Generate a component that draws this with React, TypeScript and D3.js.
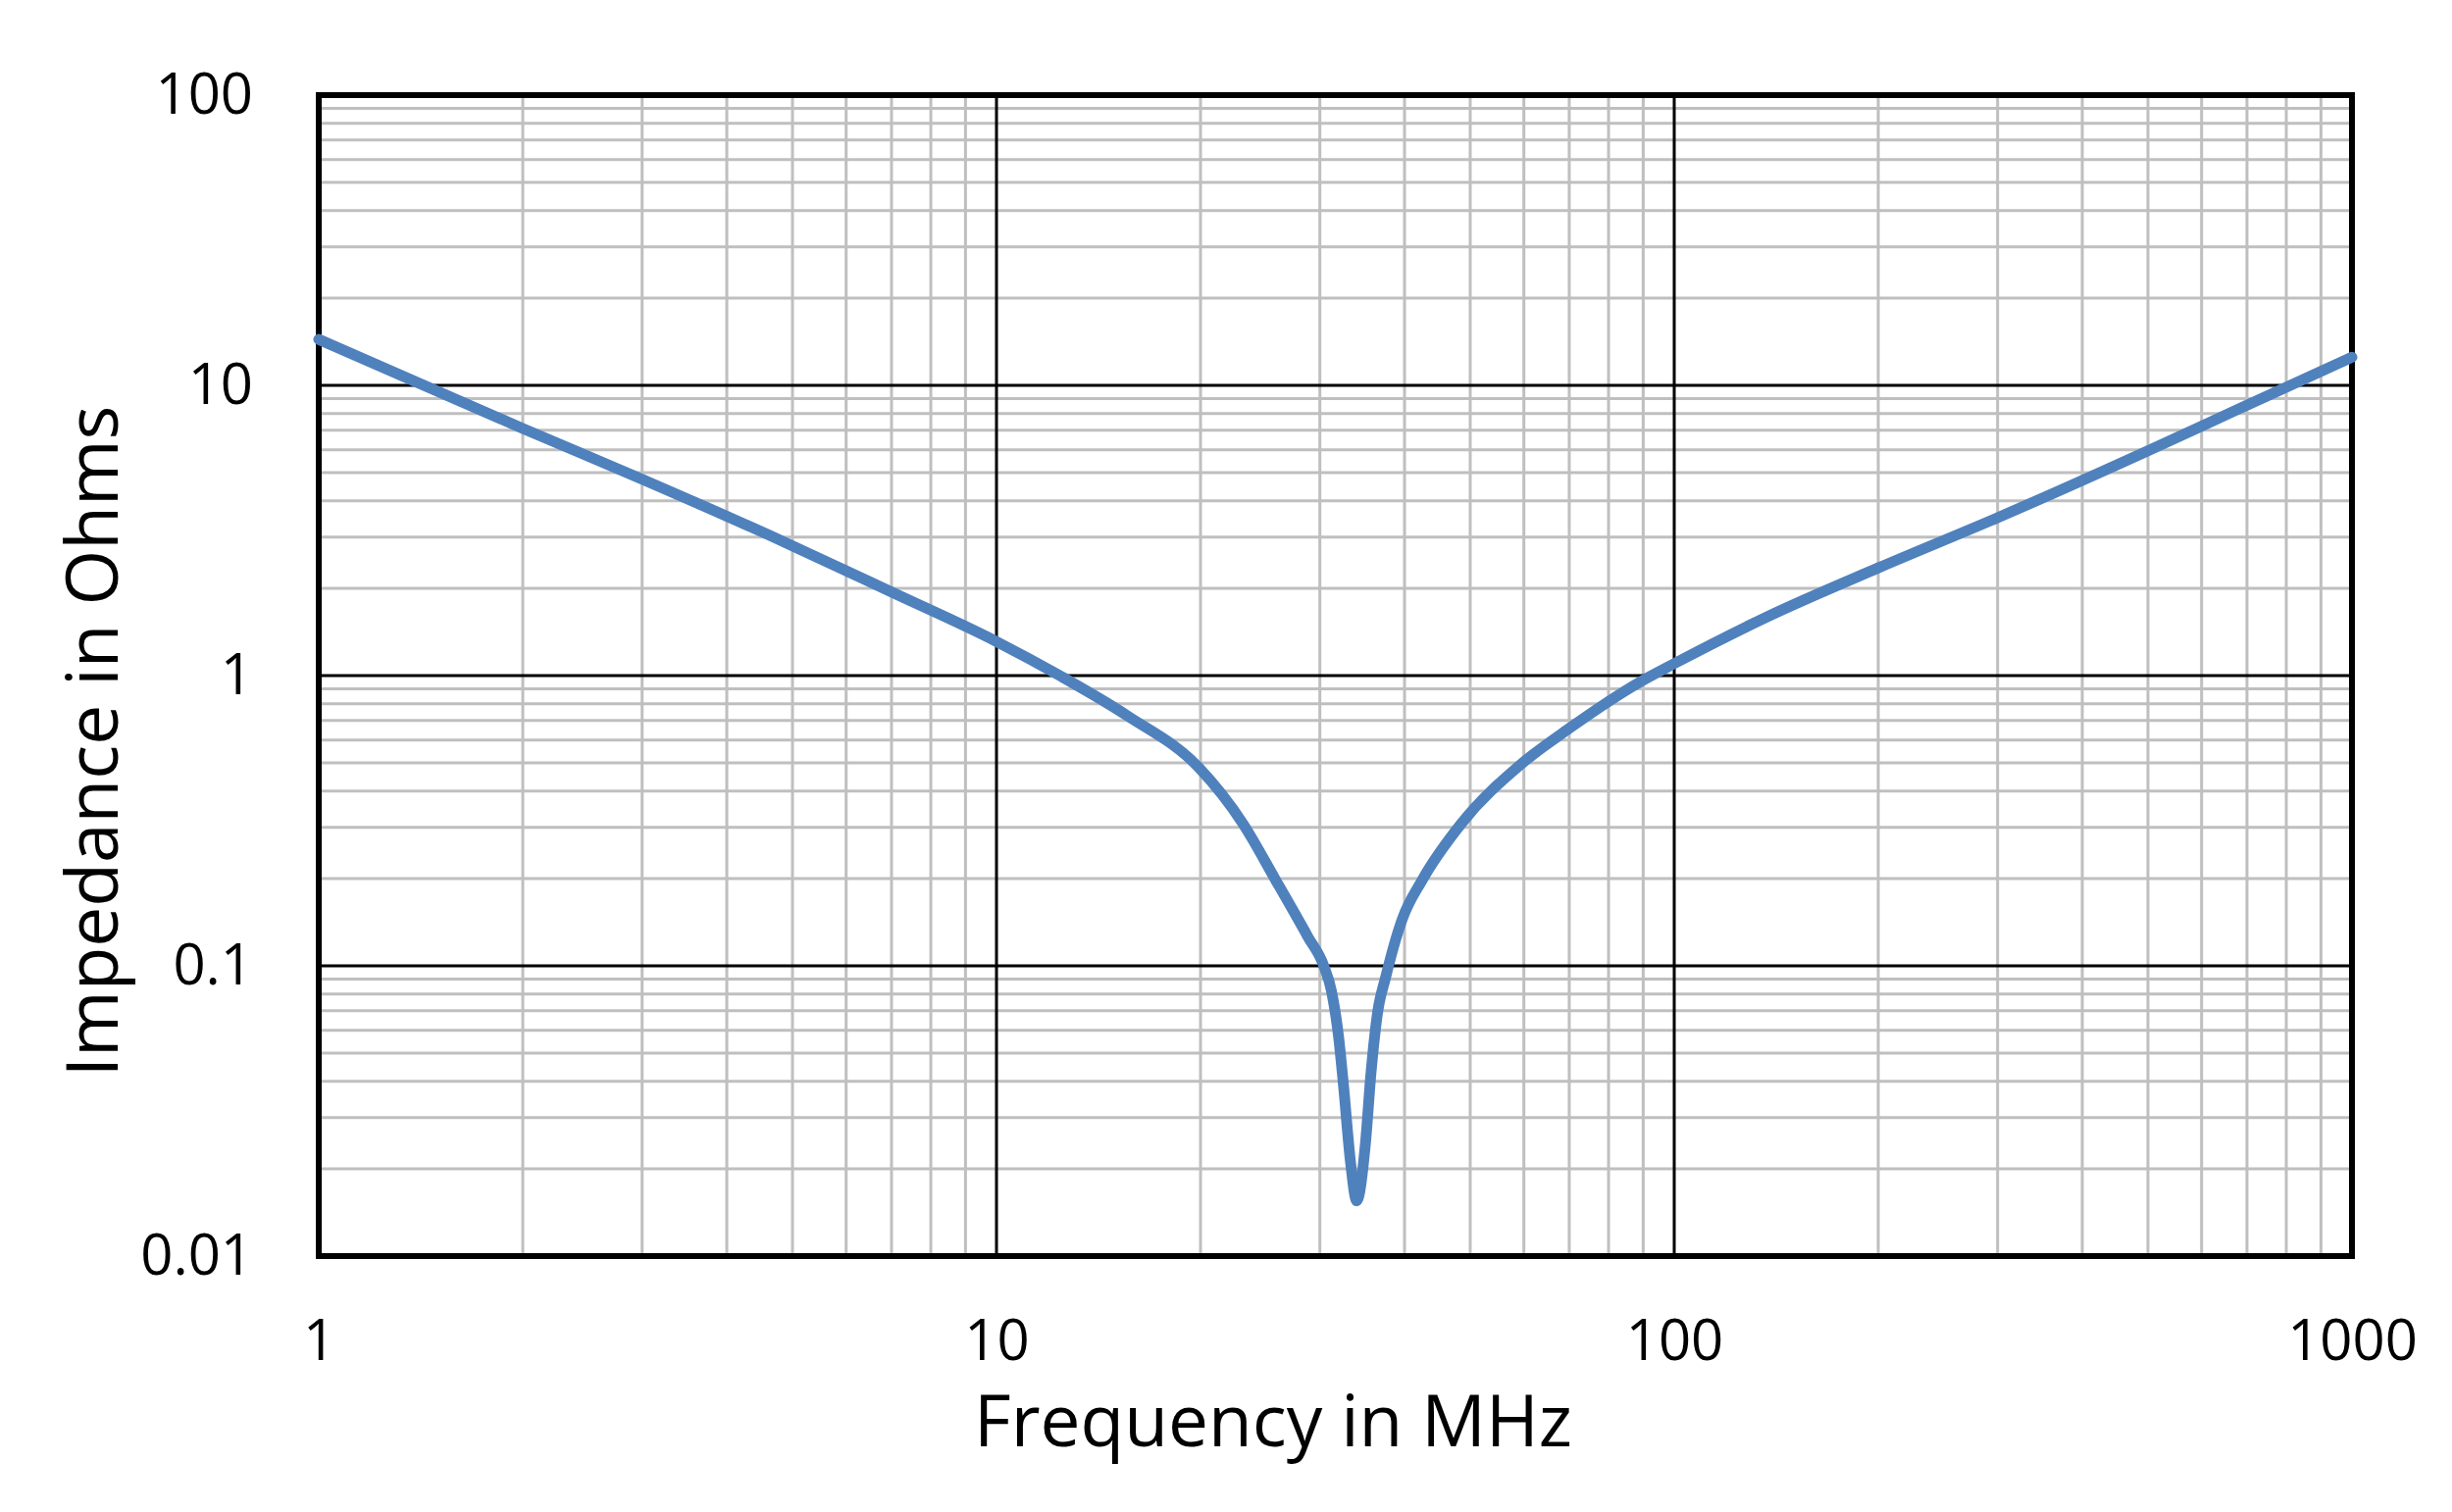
import React, { useEffect, useRef } from 'react';
import * as d3 from 'd3';

// frequency (MHz) and impedance (Ohm)
const freqMHz = [1, 2, 3, 5, 7, 10, 12.4, 15.6, 19.9, 23.1, 25.8, 28.8, 30.4, 31.2, 32, 32.5, 33.3, 34, 35, 35.7, 36.5, 37.5, 39.7, 42.5, 48.5, 59.3, 70, 89.3, 100, 136, 200, 300, 500, 700, 1000];
const impedance = [14.4, 7.1, 4.75, 2.8, 1.94, 1.31, 1.0, 0.727, 0.481, 0.309, 0.198, 0.126, 0.1, 0.082, 0.056, 0.039, 0.021, 0.0155, 0.024, 0.043, 0.069, 0.091, 0.145, 0.198, 0.309, 0.493, 0.658, 0.955, 1.1, 1.58, 2.35, 3.5, 5.95, 8.55, 12.5];

const xTicks = [1, 10, 100, 1000];
const xTickLabels = ['1', '10', '100', '1000'];
const yTicks = [0.01, 0.1, 1, 10, 100];
const yTickLabels = ['0.01', '0.1', '1', '10', '100'];
const minorSteps = [2, 3, 4, 5, 6, 7, 8, 9];

export default function App() {
  const ref = useRef<SVGSVGElement>(null);

  useEffect(() => {
    if (!ref.current) return;
    const svg = d3.select(ref.current);
    svg.selectAll('*').remove();

    const left = 325, right = 2398, top = 97, bottom = 1281;
    const font = '"Open Sans", "Noto Sans", sans-serif';

    const x = d3.scaleLog().domain([1, 1000]).range([left, right]);
    const y = d3.scaleLog().domain([0.01, 100]).range([bottom, top]);

    const xMinor: number[] = [];
    [1, 10, 100].forEach(d => minorSteps.forEach(k => xMinor.push(d * k)));
    const yMinor: number[] = [];
    [0.01, 0.1, 1, 10].forEach(d => minorSteps.forEach(k => yMinor.push(d * k)));

    const grid = svg.append('g');
    grid.selectAll('.vminor').data(xMinor).enter().append('line')
      .attr('x1', d => x(d)).attr('x2', d => x(d))
      .attr('y1', top).attr('y2', bottom)
      .attr('stroke', '#BFBFBF').attr('stroke-width', 3);
    grid.selectAll('.hminor').data(yMinor).enter().append('line')
      .attr('x1', left).attr('x2', right)
      .attr('y1', d => y(d)).attr('y2', d => y(d))
      .attr('stroke', '#BFBFBF').attr('stroke-width', 3);
    grid.selectAll('.vmajor').data(xTicks.slice(1, -1)).enter().append('line')
      .attr('x1', d => x(d)).attr('x2', d => x(d))
      .attr('y1', top).attr('y2', bottom)
      .attr('stroke', '#000').attr('stroke-width', 3);
    grid.selectAll('.hmajor').data(yTicks.slice(1, -1)).enter().append('line')
      .attr('x1', left).attr('x2', right)
      .attr('y1', d => y(d)).attr('y2', d => y(d))
      .attr('stroke', '#000').attr('stroke-width', 3);

    // plot frame
    svg.append('rect')
      .attr('x', left).attr('y', top)
      .attr('width', right - left).attr('height', bottom - top)
      .attr('fill', 'none').attr('stroke', '#000').attr('stroke-width', 6);

    const xAxis = svg.append('g')
      .attr('transform', `translate(0,${bottom})`)
      .call(d3.axisBottom(x).tickValues(xTicks).tickSize(0).tickPadding(65)
        .tickFormat((d, i) => xTickLabels[i]));
    xAxis.select('.domain').remove();

    const yAxis = svg.append('g')
      .attr('transform', `translate(${left},0)`)
      .call(d3.axisLeft(y).tickValues(yTicks).tickSize(0).tickPadding(67)
        .tickFormat((d, i) => yTickLabels[i]));
    yAxis.select('.domain').remove();

    svg.selectAll('.tick text')
      .style('font-family', font)
      .style('font-size', '58px')
      .style('fill', '#000');

    const points = freqMHz.map((f, i) => [f, impedance[i]] as [number, number]);
    const line = d3.line<[number, number]>()
      .x(d => x(d[0]))
      .y(d => y(d[1]))
      .curve(d3.curveMonotoneX);

    svg.append('path')
      .datum(points)
      .attr('d', line)
      .attr('fill', 'none')
      .attr('stroke', '#4F81BD')
      .attr('stroke-width', 11)
      .attr('stroke-linecap', 'round')
      .attr('stroke-linejoin', 'round');

    svg.append('text')
      .attr('x', 1298).attr('y', 1475)
      .attr('text-anchor', 'middle')
      .style('font-family', font).style('font-size', '73px')
      .text('Frequency in MHz');

    svg.append('text')
      .attr('transform', 'translate(120,756) rotate(-90)')
      .attr('text-anchor', 'middle')
      .style('font-family', font).style('font-size', '73px')
      .text('Impedance in Ohms');
  }, []);

  return (
    <svg ref={ref} width={2500} height={1542}
      style={{ position: 'absolute', left: 0, top: 0, background: '#fff' }} />
  );
}
